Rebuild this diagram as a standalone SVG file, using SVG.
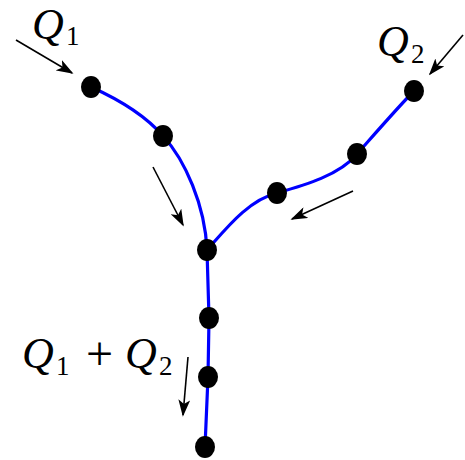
<svg xmlns="http://www.w3.org/2000/svg" width="465" height="460" viewBox="0 0 465 460">
<style>
.pipe{fill:none;stroke:#0000ff;stroke-width:3.2;stroke-linecap:round}
.arr{fill:none;stroke:#000;stroke-width:1.6;marker-end:url(#ah)}
.dot{fill:#000}
.q{font-family:"Liberation Serif",serif;font-style:italic;font-size:44px;fill:#000}
.s{font-family:"Liberation Serif",serif;font-size:27px;fill:#000}
.p{font-family:"Liberation Serif",serif;font-size:48px;fill:#000}
</style>
<defs>
<marker id="ah" viewBox="0 0 20 14" refX="18" refY="7" markerWidth="17" markerHeight="12" markerUnits="userSpaceOnUse" orient="auto">
<path d="M0,0 L20,7 L0,14 L5,7 Z" fill="#000"/>
</marker>
</defs>
<g id="connectors">
<path class="pipe" d="M91,87 C120,100 145,115 163,136 C185,160 205,205 207,250"/>
<path class="pipe" d="M207,250 C225,230 248,200 277,193 C305,185 340,175 357,154 C380,128 400,105 414,91"/>
<path class="pipe" d="M207,250 L209,318 L208,377 L205,447"/>
<path class="arr" d="M16,40 L72,73"/>
<path class="arr" d="M153,167 L183,225"/>
<path class="arr" d="M353,191 L292,219"/>
<path class="arr" d="M463,35 L430,74"/>
<path class="arr" d="M188,357 L183,415"/>
</g>
<g id="n1"><ellipse class="dot" cx="91" cy="87" rx="10" ry="11"/></g>
<g id="n2"><ellipse class="dot" cx="163" cy="136" rx="10" ry="11"/></g>
<g id="n3"><ellipse class="dot" cx="207" cy="250" rx="10" ry="11"/></g>
<g id="n4"><ellipse class="dot" cx="277" cy="193" rx="10" ry="11"/></g>
<g id="n5"><ellipse class="dot" cx="357" cy="154" rx="10" ry="11"/></g>
<g id="n6"><ellipse class="dot" cx="414" cy="91" rx="10" ry="11"/></g>
<g id="n7"><ellipse class="dot" cx="209" cy="318" rx="10" ry="11"/></g>
<g id="n8"><ellipse class="dot" cx="208" cy="377" rx="10" ry="11"/></g>
<g id="n9"><ellipse class="dot" cx="205" cy="447" rx="10" ry="11"/></g>
<g id="label-q1"><text class="q" x="32" y="39">Q</text><text class="s" x="66" y="45">1</text></g>
<g id="label-q2"><text class="q" x="377" y="56">Q</text><text class="s" x="411" y="63">2</text></g>
<g id="label-sum"><text class="q" x="22" y="368">Q</text><text class="s" x="56" y="375">1</text><text class="p" x="86" y="370">+</text><text class="q" x="125" y="368">Q</text><text class="s" x="159" y="375">2</text></g>
</svg>
